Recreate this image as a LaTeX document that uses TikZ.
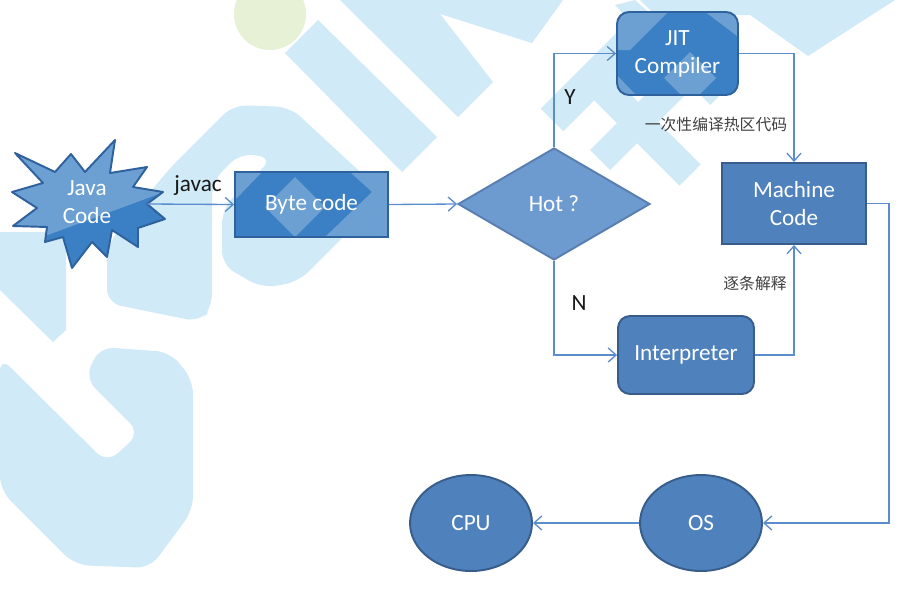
\documentclass[tikz,border=0pt]{standalone}
\usepackage{fontspec}
\setmainfont{Carlito}
\newfontfamily\cjkfont{Noto Sans CJK SC}
\usetikzlibrary{arrows.meta,shapes.geometric}

\definecolor{wmblue}{HTML}{D0EAF8}
\definecolor{wmgreen}{HTML}{E7F1D5}
\definecolor{boxfill}{HTML}{4F81BD}
\definecolor{boxline}{HTML}{385D8A}
\definecolor{brightfill}{HTML}{3B7FC4}
\definecolor{brightline}{HTML}{2F629C}
\definecolor{hotfill}{HTML}{6E9BCF}
\definecolor{hotline}{HTML}{587EB2}
\definecolor{wire}{HTML}{5B8CCB}
\definecolor{cjkgray}{HTML}{404040}

% outline of the "Java Code" burst
\newcommand\javastar{(15,153) -- (55,172) -- (71,154) -- (85,172) -- (115,140) -- (110,173)
  -- (147,167) -- (133,187) -- (163,192) -- (147,204) -- (165,219) -- (138,228)
  -- (138,247) -- (112,230) -- (107,257) -- (92,242) -- (72,268) -- (63,237)
  -- (45,242) -- (47,227) -- (13,226) -- (37,208) -- (12,192) -- (43,183) -- cycle}

\tikzset{
  nodetext/.style={text=white, font=\fontsize{13.2}{16}\selectfont, align=center, inner sep=0pt},
  plainbox/.style={nodetext, rectangle, draw=boxline, fill=boxfill, line width=1.1pt},
  brightbox/.style={nodetext, rectangle, draw=brightline, fill=brightfill, line width=1.1pt},
  roundbox/.style={rounded corners=0.24cm},
  oval/.style={nodetext, ellipse, draw=boxline, fill=boxfill, line width=1.1pt,
    minimum width=2.44cm, minimum height=1.92cm},
  wire/.style={draw=wire, line width=0.75pt, -{Straight Barb[length=4.5pt,width=8pt]}},
  lbl/.style={text=black!90, font=\fontsize{13.2}{16}\selectfont, inner sep=0pt},
  cjk/.style={text=cjkgray, font=\cjkfont\fontsize{9}{11}\selectfont, inner sep=0pt},
  wm/.style={fill=wmblue},
  hilite/.style={fill=white, fill opacity=0.25},
}

\begin{document}
\begin{tikzpicture}[x=0.02cm, y=-0.02cm]
\useasboundingbox (0,0) rectangle (915,589);
\fill[white] (0,0) rectangle (915,589);

% ---- background logo ----
\fill[wmgreen] (270,14) circle[radius=36];
\fill[wm] (318,20) -- (437,137) -- (402,172) -- (285,53) -- cycle;
\fill[wm] (340,0) -- (563,0) -- (532,43) -- (440,14) -- (493,82) -- (458,117) -- cycle;
\fill[wm, rounded corners=8pt] (107,303) -- (107,245) -- (170,168) -- (233,105) -- (290,107)
  -- (385,195) -- (298,282) -- (262,288) -- (222,265) -- (222,210) -- (235,195)
  -- (273,158) -- (240,153) -- (212,182) -- (212,308) -- (200,322) -- cycle;
\fill[wm] (0,232) -- (66,232) -- (66,330) -- (53,342) -- (0,290) -- cycle;
\fill[wm, rounded corners=8pt] (0,357) -- (107,463) -- (140,433) -- (85,378) -- (100,347)
  -- (170,352) -- (193,380) -- (193,510) -- (150,568) -- (75,565) -- (0,490) -- cycle;
\fill[wm] (540.7,108.7) -- (616.7,32.7) -- (639.3,55.3) -- (563.3,131.3) -- cycle;
\fill[wm] (610.6,74.4) -- (700.6,164.4) -- (679.4,185.6) -- (589.4,95.6) -- cycle;
\fill[wm] (590,150) -- (680,60) -- (700,80) -- (610,170) -- cycle;
\fill[wm] (634.9,0) -- (729.9,85.1) -- (710.1,104.9) -- (615.1,5.1) -- cycle;
\fill[wm] (640,0) -- (895,0) -- (808,56) -- (750,15) -- (655,15) -- cycle;

% ---- Java source burst ----
\fill[brightfill] \javastar;
\begin{scope}
  \clip \javastar;
  \fill[hilite] (0,130) -- (175,130) -- (175,188) -- (45,236) -- (0,236) -- cycle;
\end{scope}
\draw[brightline, line width=1.1pt, line join=round] \javastar;
\node[nodetext] (java) at (87,202) {Java\\Code};
\coordinate (javaR) at (147,204);

% ---- flow nodes ----
% boxes are filled first, lightened in patches, then outlined and labelled
\path[fill=brightfill] (235,172) rectangle (388,237);
\begin{scope}
  \clip (235,172) rectangle (388,237);
  \fill[hilite] (295,177) -- (325,207) -- (295,237) -- (265,207) -- cycle;
  \fill[hilite] (350,172) -- (388,172) -- (388,237) -- (325,237) -- (372,192) -- cycle;
  \fill[hilite] (235,172) -- (262,172) -- (235,200) -- cycle;
\end{scope}
\node[brightbox, fill=none, minimum width=3.06cm, minimum height=1.3cm] (bytecode) at (311.5,204.5) {Byte code};

\node[nodetext, diamond, draw=hotline, fill=hotfill, line width=1.1pt,
  minimum width=3.84cm, minimum height=2.24cm] (hot) at (554,204) {Hot ?};

\path[fill=brightfill, rounded corners=0.24cm] (617,12) rectangle (738,95);
\begin{scope}
  \clip[rounded corners=0.24cm] (617,12) rectangle (738,95);
  \fill[hilite] (612,8) -- (672,8) -- (630,50) -- (612,50) -- cycle;
  \fill[hilite] (700,8) -- (745,8) -- (745,42) -- cycle;
  \fill[hilite] (690,52) -- (716,78) -- (690,104) -- (664,78) -- cycle;
  \fill[hilite] (612,70) -- (636,95) -- (612,100) -- cycle;
\end{scope}
\node[brightbox, roundbox, fill=none, minimum width=2.42cm, minimum height=1.66cm] (jit) at (677.5,53.5) {JIT\\Compiler};

\node[plainbox, minimum width=2.88cm, minimum height=1.62cm] (machine) at (794,203.5) {Machine\\Code};
\node[plainbox, roundbox, minimum width=2.72cm, minimum height=1.56cm] (interp) at (686,355) {Interpreter};
\node[oval] (cpu) at (471,523) {CPU};
\node[oval] (os) at (701,523) {OS};

% ---- connectors ----
\draw[wire] (javaR) -- (bytecode.west);
\draw[wire] (bytecode.east) -- (hot.west);
\draw[wire] (hot.north) |- (jit.west);
\draw[wire] (jit.east) -| (machine.north);
\draw[wire] (hot.south) |- (interp.west);
\draw[wire] (interp.east) -| (machine.south);
\draw[wire] (machine.east) -- ++(22,0) |- (os.east);
\draw[wire] (os.west) -- (cpu.east);

% ---- labels ----
\node[lbl] (javac) at (198,186) {javac};
\node[lbl] (ylbl) at (570,97) {Y};
\node[lbl] (nlbl) at (579,303) {N};
\node[cjk] (jitnote) at (716,124) {一次性编译热区代码};
\node[cjk] (intnote) at (755,283) {逐条解释};
\end{tikzpicture}
\end{document}
